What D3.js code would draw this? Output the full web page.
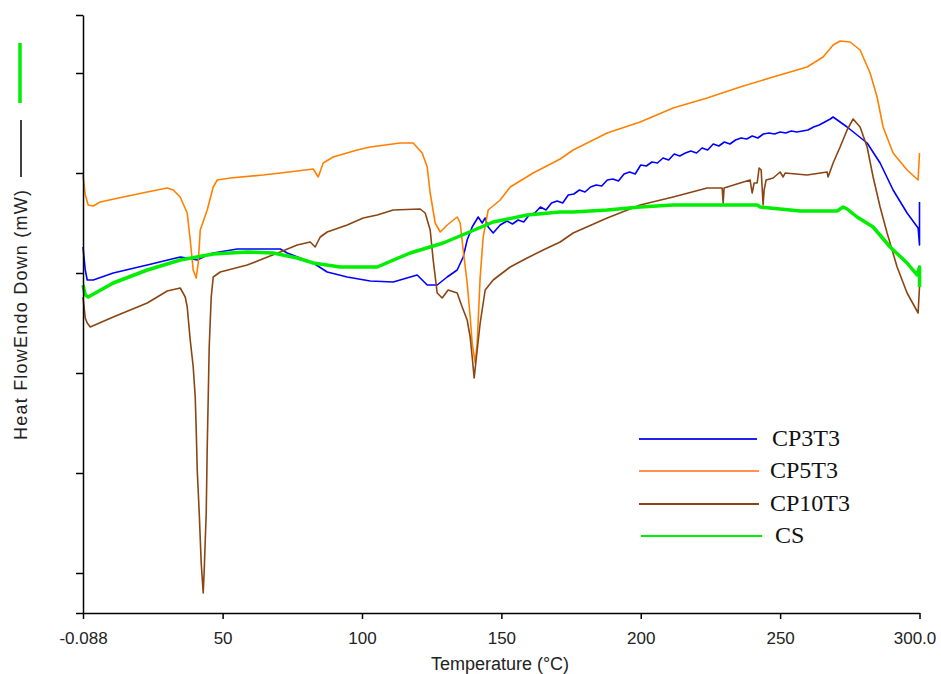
<!DOCTYPE html>
<html>
<head>
<meta charset="utf-8">
<script src="https://cdn.jsdelivr.net/npm/d3@7"></script>
<style>
  body { margin: 0; background: #fff; }
</style>
</head>
<body>
<div id="chart"></div>
<script>
// axis ticks (y axis carries no labels in the original)
const xTicks = [-0.088, 50, 100, 150, 200, 250, 300];
const xTickLabels = ["-0.088", "50", "100", "150", "200", "250", "300.0"];
const yTicks = [-0.4, 0, 1, 2, 3, 4, 5, 5.58];

const seriesNames = ["CP3T3", "CP5T3", "CP10T3", "CS"];

// [temperature °C, heat flow]
const cp3t3 = [
  [-0.088, 3.26], [0.72, 3.03], [1.43, 2.93], [3.59, 2.93], [10.76, 3.00], [22.96, 3.08],
  [34.79, 3.16], [37.30, 3.15], [40.89, 3.13], [44.48, 3.18], [46.63, 3.20], [55.24, 3.24],
  [70.66, 3.24], [73.17, 3.20], [82.50, 3.10], [87.52, 3.01], [94.69, 2.96], [102.94, 2.92],
  [111.19, 2.91], [119.80, 2.98], [123.39, 2.88], [126.97, 2.88], [130.56, 2.96], [134.15, 3.03],
  [136.30, 3.16], [137.73, 3.33], [139.53, 3.46], [141.68, 3.56], [143.11, 3.50], [144.19, 3.55],
  [145.27, 3.46], [147.06, 3.40], [149.57, 3.48],
  [152, 3.52], [154, 3.49], [156, 3.53], [158, 3.51], [160, 3.58], [162, 3.60], [164, 3.66],
  [166, 3.63], [168, 3.70], [170, 3.72], [172, 3.70], [174, 3.78], [176, 3.79], [178, 3.83],
  [180, 3.81], [182, 3.86], [184, 3.88], [186, 3.87], [188, 3.93], [190, 3.94], [192, 3.92],
  [194, 3.99], [196, 4.01], [198, 3.99], [200, 4.08], [202, 4.07], [204, 4.11], [206, 4.10],
  [208, 4.15], [210, 4.13], [212, 4.19], [214, 4.17], [216, 4.20], [218, 4.22], [220, 4.20],
  [222, 4.25], [224, 4.23], [226, 4.29], [228, 4.27], [230, 4.31], [232, 4.29], [234, 4.33],
  [236, 4.35], [238, 4.34], [240, 4.37], [242, 4.35], [244, 4.39], [246, 4.40], [248, 4.39],
  [250, 4.41], [252, 4.40], [254, 4.42], [256, 4.41], [258, 4.42], [260, 4.43], [262, 4.46],
  [264, 4.48], [266, 4.51], [268, 4.54], [269.01, 4.56],
  [274.03, 4.46], [281.21, 4.30], [285.87, 4.10], [290.53, 3.83], [295.55, 3.60], [299.50, 3.45],
  [300, 3.28], [300, 3.71]
];

const cp5t3 = [
  [-0.088, 3.98], [0.72, 3.78], [1.79, 3.68], [3.59, 3.67], [6.10, 3.71], [14.35, 3.76],
  [22.96, 3.81], [30.13, 3.85], [32.28, 3.83], [34.79, 3.76], [37.30, 3.60], [38.38, 3.33],
  [39.45, 3.03], [40.53, 2.95], [41.25, 3.10], [41.97, 3.43], [44.48, 3.63], [46.63, 3.86],
  [48.06, 3.93], [52.73, 3.95], [64.56, 3.98], [76.76, 4.02], [82.50, 4.04], [84.29, 3.96],
  [86.08, 4.10], [89.67, 4.16], [98.28, 4.23], [102.94, 4.26], [113.70, 4.30], [118.36, 4.30],
  [121.59, 4.20], [123.39, 4.06], [124.46, 3.80], [126.26, 3.50], [128.05, 3.41], [130.56, 3.48],
  [134.15, 3.56], [135.22, 3.50], [136.30, 3.23], [137.73, 2.90], [138.81, 2.56], [139.53, 2.30],
  [140.60, 2.10], [141.32, 2.30], [142.40, 2.96], [143.47, 3.36], [145.27, 3.63], [149.57, 3.73],
  [153.16, 3.86], [161.41, 4.00], [171.09, 4.14], [175.75, 4.23], [187.95, 4.40], [199.78, 4.51],
  [211.62, 4.65], [223.82, 4.75], [235.65, 4.86], [247.49, 4.96], [259.68, 5.06], [265.42, 5.16],
  [269.01, 5.28], [271.52, 5.32], [275.11, 5.31], [278.69, 5.23], [282.28, 5.00], [284.79, 4.76],
  [286.94, 4.46], [290.53, 4.20], [295.55, 4.03], [299.50, 3.93], [300, 4.20]
];

const cp10t3 = [
  [-0.088, 2.76], [0.72, 2.55], [1.43, 2.50], [2.51, 2.46], [10.76, 2.56], [22.96, 2.70],
  [30.13, 2.82], [34.79, 2.85], [36.59, 2.76], [37.30, 2.66], [38.38, 2.33], [39.45, 2.06],
  [40.17, 1.76], [40.53, 1.43], [40.89, 1.03], [41.61, 0.60], [42.32, 0.10], [43.04, -0.20],
  [43.40, 0.03], [44.12, 0.60], [44.48, 1.26], [44.84, 1.76], [45.19, 2.26], [45.91, 2.76],
  [46.63, 2.96], [49.14, 3.01], [58.82, 3.08], [70.66, 3.21], [76.76, 3.28], [81.42, 3.31],
  [83.21, 3.26], [85.01, 3.36], [87.52, 3.41], [94.69, 3.48], [100.43, 3.55], [105.45, 3.58],
  [111.19, 3.63], [120.88, 3.64], [122.67, 3.60], [124.46, 3.43], [125.54, 3.13], [126.97, 2.80],
  [128.77, 2.75], [130.92, 2.83], [134.15, 2.80], [135.94, 2.66], [137.73, 2.53], [138.81, 2.36],
  [139.53, 2.16], [140.24, 1.95], [141.32, 2.23], [142.40, 2.50], [144.19, 2.83], [147.06, 2.93],
  [153.16, 3.06], [159.25, 3.15], [164.99, 3.23], [171.09, 3.31], [175.75, 3.40], [187.95, 3.55],
  [199.78, 3.68], [211.62, 3.76], [223.82, 3.85], [229.20, 3.85], [229.56, 3.70], [229.90, 3.85],
  [235.65, 3.90], [239.24, 3.93], [239.96, 3.80], [240.68, 3.90], [241.76, 3.90], [242.47, 4.05],
  [243.20, 4.03], [243.54, 3.86], [243.90, 3.68], [244.26, 3.83], [244.98, 3.93], [247.49, 3.95],
  [250.00, 4.01], [251.08, 3.96], [251.80, 4.00], [259.68, 3.98], [266.86, 4.01], [267.22, 3.96],
  [269.01, 4.10], [271.52, 4.26], [274.03, 4.43], [276.18, 4.54], [278.69, 4.46], [281.21, 4.26],
  [283.36, 3.96], [285.87, 3.66], [288.38, 3.40], [291.97, 3.06], [295.55, 2.80], [299.50, 2.60],
  [300, 2.86]
];

const cs = [
  [-0.088, 2.88], [0.72, 2.78], [1.79, 2.76], [10.76, 2.90], [22.96, 3.03], [34.79, 3.13],
  [46.63, 3.19], [58.82, 3.21], [68.15, 3.20], [76.76, 3.15], [82.50, 3.10], [92.18, 3.06],
  [105.45, 3.06], [117.29, 3.20], [129.12, 3.30], [137.73, 3.40], [147.06, 3.51], [159.25, 3.58],
  [171.09, 3.61], [175.75, 3.61], [187.95, 3.63], [199.78, 3.66], [211.62, 3.68], [223.82, 3.68],
  [241.76, 3.68], [242.83, 3.66], [250.00, 3.64], [257.17, 3.62], [270.44, 3.62], [272.60, 3.66],
  [274.03, 3.64], [277.62, 3.56], [283.36, 3.46], [289.46, 3.26], [295.55, 3.10], [299.14, 2.98],
  [300, 3.06], [300, 2.86]
];

const seriesData = [cp3t3, cp5t3, cp10t3, cs];
const seriesColors = ["#0000ff", "#ff8000", "#8b4513", "#00ee00"];
const legendColors = ["#2020f0", "#ff9050", "#8b4513", "#00ee00"];

const width = 941, height = 674;

const svg = d3.select("#chart").append("svg")
  .attr("width", width)
  .attr("height", height)
  .style("font-family", "'Liberation Sans', Arial, sans-serif");

const x = d3.scaleLinear().domain([-0.088, 300]).range([83, 919.5]);
const y = d3.scaleLinear().domain([-0.4, 5.58]).range([613, 15]);

// curves
const line = d3.line().x(d => x(d[0])).y(d => y(d[1]));

svg.append("g")
  .selectAll("path")
  .data(seriesData)
  .join("path")
  .attr("d", line)
  .attr("fill", "none")
  .attr("stroke", (d, i) => seriesColors[i])
  .attr("stroke-width", (d, i) => i === 3 ? 3.5 : 1.6)
  .attr("stroke-linejoin", "round");

// x axis
const xAxis = svg.append("g")
  .attr("transform", `translate(0, ${y(-0.4)})`)
  .call(d3.axisBottom(x).tickValues(xTicks).tickSize(6).tickSizeOuter(0)
    .tickFormat((d, i) => xTickLabels[i]));
xAxis.select(".domain").attr("stroke", "#000").attr("stroke-width", 1.5);
xAxis.selectAll(".tick line").attr("stroke", "#000").attr("stroke-width", 1.5);
xAxis.selectAll("text")
  .attr("font-size", 17)
  .attr("font-family", "'Liberation Sans', Arial, sans-serif")
  .attr("fill", "#222")
  .attr("dy", "1.3em")
  .attr("dx", (d, i) => i === xTicks.length - 1 ? -5 : 0);

// y axis, ticks only
const yAxis = svg.append("g")
  .attr("transform", `translate(${x(-0.088)}, 0)`)
  .call(d3.axisLeft(y).tickValues(yTicks).tickSize(7).tickSizeOuter(0).tickFormat(""));
yAxis.select(".domain").attr("stroke", "#000").attr("stroke-width", 1.5);
yAxis.selectAll(".tick line").attr("stroke", "#000").attr("stroke-width", 1.5);

// axis titles
svg.append("text")
  .attr("x", 500)
  .attr("y", 670)
  .attr("text-anchor", "middle")
  .attr("font-size", 18)
  .attr("fill", "#222")
  .text("Temperature (°C)");

svg.append("text")
  .attr("transform", "translate(27, 315) rotate(-90)")
  .attr("text-anchor", "middle")
  .attr("font-size", 18)
  .attr("fill", "#222")
  .attr("textLength", 250)
  .attr("lengthAdjust", "spacing")
  .text("Heat FlowEndo Down (mW)");

// little colour keys beside the y title
svg.append("line")
  .attr("x1", 21).attr("x2", 21).attr("y1", 120).attr("y2", 177)
  .attr("stroke", "#000").attr("stroke-width", 1.5);
svg.append("line")
  .attr("x1", 20).attr("x2", 20).attr("y1", 43).attr("y2", 103)
  .attr("stroke", "#00ee00").attr("stroke-width", 3.5);

// legend
const legendRowY = [439, 471, 504, 536];
const legendLineX = [[639, 757], [639, 759], [639, 759], [641, 762]];
const legendTextX = [772, 770, 770, 775];

const legend = svg.append("g").attr("class", "legend");
seriesNames.forEach((name, i) => {
  legend.append("line")
    .attr("x1", legendLineX[i][0]).attr("x2", legendLineX[i][1])
    .attr("y1", legendRowY[i]).attr("y2", legendRowY[i])
    .attr("stroke", legendColors[i])
    .attr("stroke-width", 2.2);
  legend.append("text")
    .attr("x", legendTextX[i])
    .attr("y", legendRowY[i] + 7)
    .attr("font-family", "'Liberation Serif', 'Times New Roman', serif")
    .attr("font-size", 24)
    .attr("fill", "#111")
    .text(name);
});
</script>
</body>
</html>
